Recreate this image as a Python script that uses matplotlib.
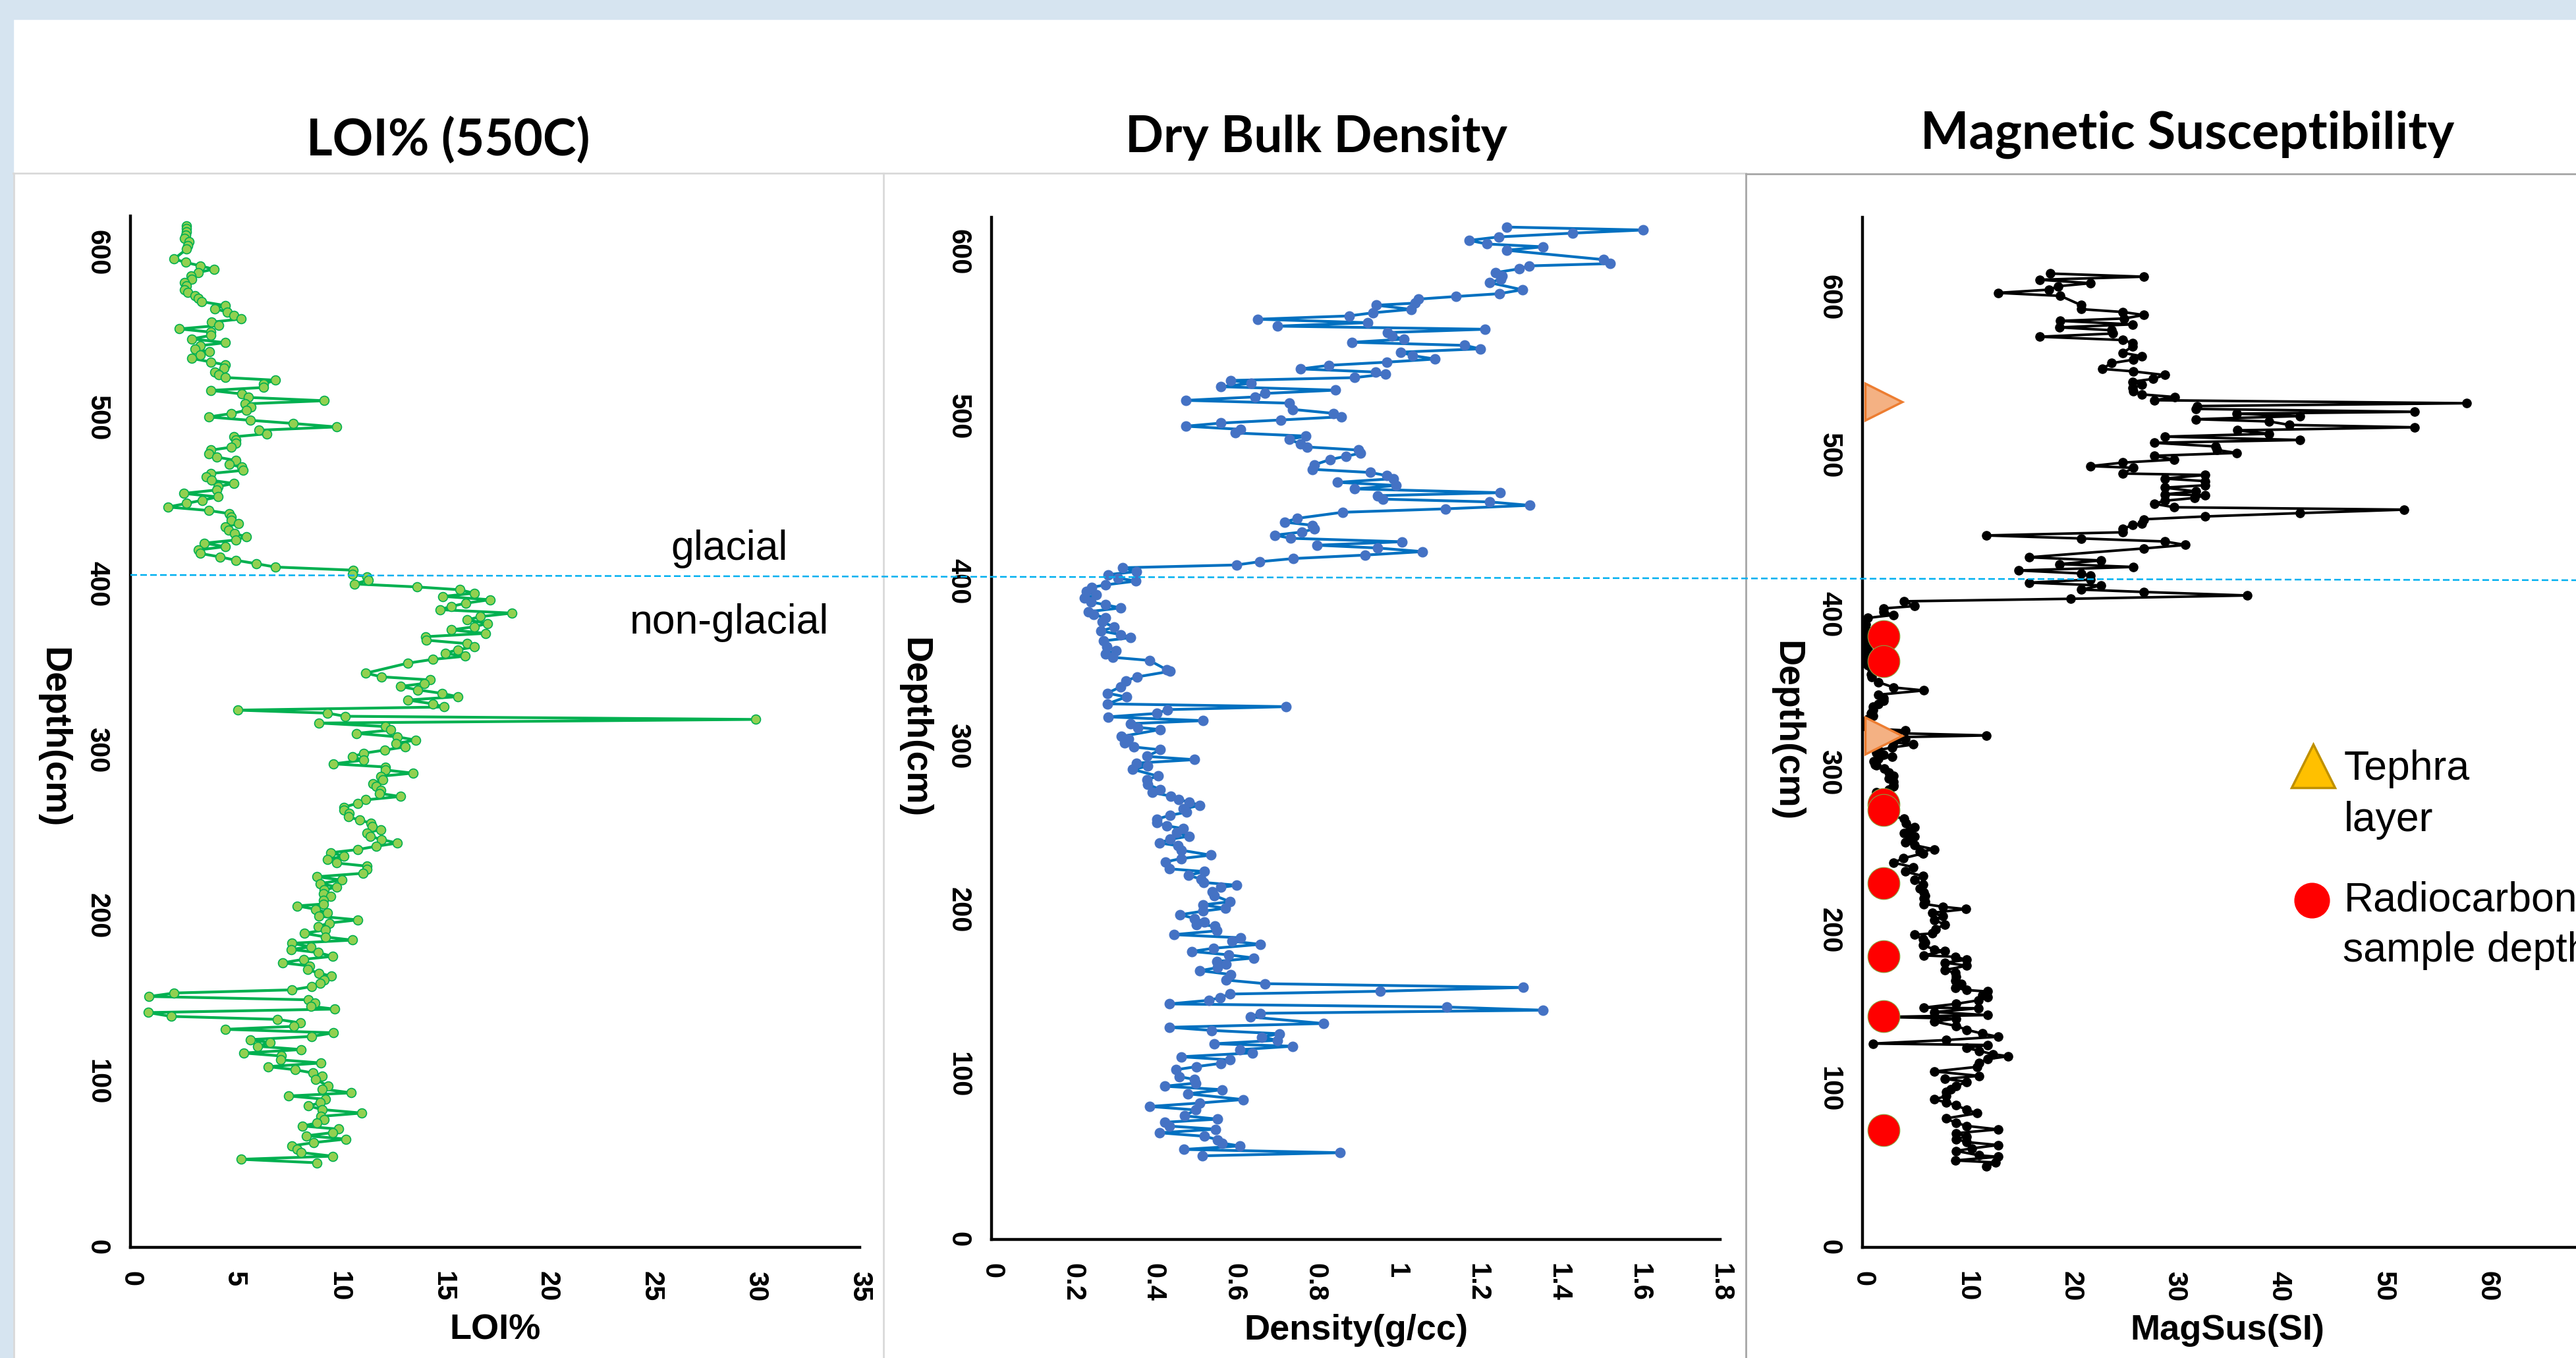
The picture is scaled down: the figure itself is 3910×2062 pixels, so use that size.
import matplotlib
matplotlib.use('Agg')
import matplotlib.pyplot as plt
from matplotlib.patches import Rectangle
from matplotlib.lines import Line2D

plt.rcParams['font.family'] = ['Liberation Sans', 'DejaVu Sans']

# ---------------- data ----------------
loi_depth = [616.1, 614.3, 612.4, 610.5, 608.3, 606.4, 604.2, 602.1, 596.1, 594.0, 592.0, 589.9, 588.0, 586.0,
             583.9, 581.8, 579.8, 577.7, 575.8, 574.1, 572.3, 570.4, 568.0, 566.1, 564.0, 562.0, 559.9, 558.0,
             556.0, 553.9, 552.0, 550.0, 547.9, 545.6, 543.8, 541.9, 540.0, 538.1, 536.1, 534.0, 532.2, 530.1,
             528.0, 526.1, 524.6, 523.0, 520.7, 518.6, 516.8, 514.7, 512.6, 510.6, 508.7, 506.8, 504.8, 502.9,
             500.8, 498.8, 496.9, 494.8, 492.8, 490.7, 488.8, 486.8, 484.9, 482.6, 480.8, 478.5, 476.6, 474.6,
             472.3, 470.5, 468.6, 466.7, 464.8, 462.6, 460.7, 458.8, 456.8, 454.7, 452.6, 450.6, 448.7, 446.5,
             444.4, 442.5, 440.4, 438.6, 436.5, 434.5, 432.4, 430.5, 428.6, 426.6, 424.7, 422.6, 420.6, 418.5,
             416.4, 414.4, 412.3, 410.3, 408.4, 405.9, 404.5, 402.4, 400.1, 398.3, 396.6, 394.5, 392.6, 390.6,
             388.5, 386.6, 384.6, 382.5, 380.4, 378.4, 376.3, 374.3, 372.4, 370.3, 368.3, 366.2, 364.1, 362.1,
             360.4, 358.3, 356.5, 354.6, 352.3, 346.3, 344.1, 342.2, 340.1, 338.3, 336.2, 334.1, 332.1, 330.1,
             327.8, 325.9, 324.0, 322.2, 320.3, 318.4, 316.2, 314.1, 312.0, 310.0, 307.9, 305.9, 304.0, 301.9,
             299.9, 298.0, 295.9, 293.9, 291.6, 289.7, 287.9, 286.0, 284.1, 281.9, 279.8, 277.9, 275.7, 273.8,
             271.9, 269.9, 267.8, 265.5, 263.7, 261.8, 259.7, 257.7, 255.8, 253.7, 252.0, 250.0, 247.9, 246.0,
             243.8, 241.9, 239.9, 238.0, 235.9, 233.9, 231.8, 229.9, 227.9, 225.6, 223.5, 221.5, 219.4, 217.4,
             215.5, 213.4, 211.9, 209.3, 207.1, 205.9, 203.9, 201.8, 199.7, 197.5, 195.6, 193.5, 191.5, 189.4,
             187.2, 185.3, 183.4, 181.2, 179.7, 177.8, 175.5, 173.7, 171.6, 169.7, 167.5, 165.4, 163.5, 161.3,
             159.4, 157.3, 155.3, 153.4, 151.3, 149.3, 147.2, 145.4, 143.7, 141.6, 139.3, 137.5, 135.4, 133.3,
             131.5, 129.4, 127.2, 125.3, 123.4, 121.3, 119.3, 117.2, 115.4, 113.1, 111.2, 109.0, 107.1, 105.2,
             103.4, 101.3, 97.2, 95.5, 93.2, 91.3, 89.3, 87.2, 85.3, 83.1, 81.0, 79.0, 76.9, 75.0, 73.2, 71.3,
             69.2, 67.3, 65.3, 63.2, 61.2, 59.3, 57.2, 55.0, 53.1, 51.0]
loi_pct = [2.7, 2.7, 2.7, 2.65, 2.6, 2.8, 2.75, 2.7, 2.1, 2.65, 3.35, 4.0, 3.25, 2.9,
           2.95, 2.6, 2.7, 2.6, 2.75, 3.1, 3.25, 3.4, 4.55, 4.05, 4.65, 4.95, 5.3, 3.9,
           4.25, 2.35, 3.85, 3.85, 2.95, 4.55, 3.35, 3.1, 3.8, 3.35, 2.95, 3.85, 4.55, 4.5,
           4.05, 4.25, 4.55, 6.95, 6.4, 6.4, 3.85, 5.35, 5.65, 9.3, 5.5, 5.8, 5.55, 4.85,
           3.75, 5.75, 7.8, 9.9, 6.15, 6.55, 4.95, 5.05, 5.05, 4.85, 3.85, 3.75, 4.15, 5.05,
           4.75, 5.35, 5.4, 3.85, 3.65, 3.9, 4.95, 4.2, 4.15, 2.55, 4.2, 3.45, 2.7, 1.8,
           3.75, 4.75, 4.85, 4.85, 5.2, 4.55, 4.7, 5.0, 5.55, 5.05, 3.55, 4.55, 3.25, 3.35,
           4.3, 5.05, 6.05, 6.95, 10.7, 10.65, 11.35, 11.4, 10.75, 13.75, 15.8, 16.5, 15.0, 17.25,
           16.1, 15.4, 14.85, 18.3, 16.8, 16.15, 17.15, 16.5, 15.4, 17.05, 14.15, 14.2, 16.15, 16.5,
           15.7, 15.1, 16.05, 14.5, 13.3, 11.3, 12.05, 14.4, 14.1, 12.95, 13.8, 14.95, 15.7, 13.3,
           14.5, 15.05, 5.15, 9.45, 10.3, 30.0, 9.05, 12.25, 12.5, 10.85, 12.8, 13.7, 12.75, 13.2,
           12.2, 11.2, 10.65, 11.2, 9.75, 12.25, 12.25, 13.55, 12.0, 12.1, 11.65, 11.8, 12.0, 11.95,
           12.95, 11.3, 10.9, 10.25, 10.25, 10.5, 10.45, 11.0, 11.55, 11.6, 12.0, 11.35, 11.5, 12.05,
           12.8, 11.8, 10.9, 9.6, 10.25, 9.45, 9.9, 11.35, 11.35, 11.15, 8.95, 10.15, 9.1, 9.9,
           9.3, 9.25, 9.6, 9.25, 9.25, 8.0, 8.9, 9.45, 9.05, 10.9, 9.55, 9.0, 9.35, 8.35,
           9.35, 10.65, 7.75, 8.65, 7.7, 9.0, 9.7, 8.3, 7.3, 8.6, 8.5, 9.05, 9.65, 9.3,
           9.1, 8.7, 7.75, 2.1, 0.9, 8.55, 8.85, 8.65, 9.8, 0.85, 1.95, 7.05, 8.15, 7.85,
           4.55, 9.75, 8.7, 5.75, 6.7, 6.1, 8.2, 5.45, 7.25, 7.2, 9.15, 6.6, 7.9, 8.75,
           9.2, 8.9, 9.5, 9.2, 10.6, 7.6, 9.35, 9.1, 8.55, 9.2, 11.1, 9.15, 9.3, 8.95, 8.25, 10.0,
           9.7, 8.45, 10.35, 8.8, 7.75, 8.0, 8.2, 9.7, 5.3, 8.95]

dens_depth = [615.1, 613.3, 611.4, 609.1, 607.0, 604.8, 603.1, 601.0, 595.3, 592.9, 591.5, 589.7, 587.4, 585.3,
              583.4, 581.3, 577.0, 574.6, 572.9, 571.3, 568.9, 567.6, 565.1, 563.0, 561.1, 559.1, 557.0, 554.9,
              553.0, 551.0, 548.9, 547.0, 545.1, 543.2, 541.1, 539.1, 537.0, 534.9, 533.0, 531.1, 528.9, 527.0,
              525.8, 523.6, 521.9, 520.2, 518.1, 516.0, 514.0, 511.9, 509.8, 508.1, 504.3, 501.9, 499.8, 497.9,
              496.0, 494.1, 492.2, 490.0, 488.1, 486.0, 483.4, 481.5, 479.6, 477.7, 475.8, 473.9, 470.7, 467.9,
              466.0, 464.1, 462.2, 460.0, 458.1, 456.0, 453.7, 451.9, 449.8, 448.1, 446.0, 443.9, 441.8, 438.1,
              435.8, 433.9, 431.7, 429.8, 427.9, 426.0, 423.9, 421.8, 420.1, 417.9, 415.8, 413.7, 411.8, 409.8,
              408.1, 405.8, 403.9, 401.8, 400.0, 397.7, 396.2, 393.7, 391.6, 389.6, 387.3, 385.6, 383.7, 381.4,
              379.6, 377.7, 375.4, 372.0, 369.7, 367.5, 365.6, 363.7, 360.3, 357.9, 355.6, 353.7, 351.8, 346.1,
              345.2, 341.8, 339.5, 335.8, 331.9, 329.6, 325.4, 323.7, 321.9, 319.6, 317.5, 315.2, 313.4, 311.1,
              309.8, 305.6, 303.9, 301.5, 299.2, 297.5, 293.5, 291.5, 289.4, 287.5, 285.6, 281.5, 279.4, 276.5,
              273.3, 271.5, 269.4, 267.1, 265.8, 263.7, 261.6, 259.6, 257.7, 255.4, 253.1, 251.3, 249.6, 247.1,
              245.0, 243.1, 240.9, 239.2, 236.5, 233.5, 231.4, 229.4, 225.2, 223.5, 221.2, 219.0, 216.9, 215.2,
              213.9, 211.2, 209.0, 205.2, 203.3, 201.2, 199.5, 197.3, 195.0, 192.9, 191.2, 190.5, 187.5, 185.2,
              183.3, 181.2, 179.3, 176.9, 175.0, 172.9, 171.0, 168.9, 167.1, 165.2, 163.3, 161.0, 157.6, 155.4,
              153.1, 150.8, 149.1, 146.9, 145.3, 143.1, 141.2, 139.3, 137.4, 135.2, 131.2, 128.9, 127.0, 125.0,
              122.9, 121.0, 118.9, 117.4, 115.3, 113.3, 111.0, 109.1, 107.0, 105.0, 103.1, 98.9, 97.2, 95.0,
              93.1, 91.0, 88.5, 85.0, 82.9, 80.8, 78.7, 75.1, 73.1, 71.2, 68.9, 67.0, 64.8, 62.7, 60.6, 58.5,
              56.8, 54.7, 52.7, 50.8]
dens_gcc = [1.272, 1.610, 1.436, 1.253, 1.180, 1.224, 1.363, 1.272, 1.512, 1.529, 1.328, 1.303, 1.245, 1.262,
            1.258, 1.231, 1.311, 1.254, 1.147, 1.054, 1.047, 0.951, 1.036, 0.942, 0.883, 0.657, 0.929, 0.706,
            1.219, 0.978, 0.989, 1.019, 0.891, 1.169, 1.207, 1.011, 1.040, 1.096, 0.976, 0.834, 0.764, 0.949,
            0.974, 0.897, 0.591, 0.642, 0.567, 0.849, 0.675, 0.651, 0.480, 0.736, 0.744, 0.845, 0.864, 0.714,
            0.567, 0.480, 0.615, 0.602, 0.777, 0.735, 0.764, 0.779, 0.907, 0.911, 0.875, 0.837, 0.798, 0.793,
            0.935, 0.976, 0.992, 0.855, 1.000, 0.897, 1.256, 0.953, 0.967, 1.231, 1.330, 1.122, 0.867, 0.755,
            0.724, 0.793, 0.798, 0.766, 0.700, 0.739, 1.014, 0.804, 0.954, 1.065, 0.922, 0.746, 0.663, 0.605,
            0.324, 0.358, 0.288, 0.313, 0.357, 0.281, 0.248, 0.234, 0.259, 0.229, 0.246, 0.281, 0.319, 0.240,
            0.253, 0.281, 0.273, 0.303, 0.270, 0.319, 0.344, 0.277, 0.284, 0.308, 0.281, 0.299, 0.390, 0.433,
            0.441, 0.360, 0.332, 0.319, 0.286, 0.333, 0.286, 0.728, 0.435, 0.408, 0.288, 0.523, 0.343, 0.362,
            0.417, 0.321, 0.339, 0.328, 0.352, 0.417, 0.384, 0.501, 0.358, 0.386, 0.349, 0.411, 0.384, 0.386,
            0.417, 0.397, 0.442, 0.463, 0.488, 0.515, 0.474, 0.482, 0.441, 0.409, 0.408, 0.433, 0.474, 0.458,
            0.488, 0.441, 0.415, 0.461, 0.468, 0.542, 0.468, 0.430, 0.439, 0.526, 0.486, 0.517, 0.524, 0.606,
            0.567, 0.545, 0.550, 0.589, 0.523, 0.577, 0.523, 0.466, 0.502, 0.526, 0.506, 0.551, 0.556, 0.450,
            0.615, 0.594, 0.664, 0.548, 0.495, 0.586, 0.648, 0.556, 0.580, 0.559, 0.515, 0.591, 0.580, 0.676,
            1.314, 0.960, 0.589, 0.564, 0.537, 0.439, 1.125, 1.362, 0.664, 0.640, 0.820, 0.439, 0.544, 0.711,
            0.668, 0.706, 0.550, 0.744, 0.613, 0.644, 0.468, 0.589, 0.567, 0.506, 0.455, 0.464, 0.502, 0.504,
            0.428, 0.570, 0.485, 0.621, 0.515, 0.390, 0.504, 0.477, 0.559, 0.428, 0.439, 0.553, 0.415, 0.526,
            0.559, 0.570, 0.613, 0.475, 0.861, 0.520]

mag_depth = [615.0, 613.0, 611.1, 608.9, 607.0, 604.8, 602.8, 600.9, 595.0, 592.5, 590.7, 588.8, 586.6, 585.1,
             582.9, 581.0, 579.2, 577.1, 575.1, 573.0, 571.2, 569.0, 564.9, 562.8, 560.6, 558.4, 554.8, 553.2,
             550.9, 548.5, 546.7, 544.8, 542.6, 540.5, 538.7, 537.0, 535.0, 533.1, 531.3, 529.5, 527.7, 526.5,
             525.0, 523.0, 521.6, 519.4, 517.9, 516.0, 513.8, 512.0, 509.9, 508.1, 505.8, 503.6, 501.7, 499.9,
             497.5, 495.6, 493.4, 492.3, 488.7, 487.8, 485.5, 483.9, 481.3, 479.8, 477.4, 475.6, 475.0, 473.3,
             471.5, 469.6, 467.4, 465.9, 463.7, 461.6, 459.8, 457.0, 456.1, 453.8, 451.6, 449.6, 447.7, 445.8,
             443.6, 441.4, 435.8, 433.8, 431.5, 429.7, 427.5, 425.6, 424.1, 421.7, 419.8, 418.0, 415.4, 413.9,
             411.7, 409.6, 408.0, 405.0, 403.5, 401.3, 399.4, 397.5, 395.7, 393.5, 391.5, 389.5, 387.5, 385.5,
             383.5, 381.5, 379.5, 377.5, 375.5, 373.5, 371.5, 369.5, 367.5, 365.0, 362.0, 360.0, 357.0, 353.6,
             351.7, 349.0, 347.0, 345.2, 343.0, 341.5, 339.5, 337.5, 335.8, 333.5, 331.1, 329.0, 327.5, 326.5,
             325.0, 323.3, 322.0, 320.9, 319.0, 317.6, 315.7, 314.0, 312.5, 311.0, 309.8, 308.5, 307.0, 305.0,
             304.6, 302.3, 300.0, 297.7, 296.0, 294.0, 292.0, 291.2, 289.0, 287.5, 285.0, 282.5, 280.0, 277.0,
             274.0, 272.6, 270.8, 268.0, 265.2, 263.0, 261.5, 259.6, 257.5, 255.9, 254.0, 251.3, 250.0, 248.8,
             245.7, 242.9, 240.1, 237.3, 234.5, 232.1, 229.0, 226.5, 224.3, 222.0, 220.6, 218.5, 216.9, 215.1,
             213.6, 211.3, 209.1, 206.7, 203.9, 201.0, 198.3, 197.4, 194.6, 192.5, 190.9, 188.1, 187.2, 184.4,
             183.5, 181.6, 179.8, 177.9, 175.1, 173.3, 171.0, 168.6, 166.5, 164.0, 162.5, 161.6, 159.5, 157.9,
             156.0, 153.8, 151.4, 151.0, 148.6, 146.7, 145.5, 144.5, 142.6, 139.8, 137.4, 135.0, 133.0, 130.9,
             128.7, 127.8, 125.9, 124.1, 122.0, 120.7, 118.9, 116.6, 114.0, 111.1, 108.3, 106.4, 104.6, 101.8,
             100.0, 98.1, 95.5, 93.4, 91.6, 89.7, 86.9, 84.7, 81.4, 78.6, 76.7, 74.5, 72.1, 70.0, 68.4, 66.5,
             64.6, 62.5, 60.9, 58.1, 57.2, 54.9, 53.6, 51.0]
mag_si = [18.0, 27.0, 17.0, 21.9, 18.8, 17.9, 13.0, 19.0, 21.0, 21.0, 25.0, 27.0, 25.1, 19.0,
          25.9, 18.9, 23.9, 24.0, 17.0, 25.0, 25.9, 25.9, 25.0, 26.8, 26.0, 23.9, 23.0, 26.0,
          29.0, 27.9, 25.9, 26.8, 25.9, 26.0, 26.8, 30.0, 28.0, 58.0, 32.1, 32.0, 53.0, 35.9,
          42.0, 32.0, 39.0, 41.0, 53.0, 36.0, 39.0, 29.0, 42.0, 28.0, 33.9, 34.0, 35.9, 28.0,
          29.9, 25.0, 21.9, 26.0, 25.0, 32.9, 29.0, 32.9, 32.9, 29.0, 32.0, 29.0, 32.9, 31.9,
          29.0, 28.0, 29.9, 52.0, 42.0, 32.9, 27.0, 26.8, 25.9, 25.0, 25.0, 11.9, 21.0, 29.0,
          31.0, 27.0, 16.0, 22.9, 18.9, 26.0, 15.0, 21.0, 21.9, 21.9, 16.0, 22.9, 21.0, 27.0,
          36.9, 20.0, 4.0, 5.0, 2.0, 2.0, 3.0, 0.5, 0.2, 0.3, 0.2, 0.5, 0.2, 0.4,
          0.2, 0.5, 0.3, 0.5, 0.3, 0.4, 0.6, 0.3, 0.5, 0.9, 0.8, 0.9, 1.5, 3.0,
          5.9, 1.5, 2.0, 2.0, 1.5, 1.0, 1.0, 0.8, 1.0, 0.5, 0.2, 0.3, 1.0, 4.1,
          1.5, 11.9, 2.0, 4.1, 3.0, 4.9, 2.85, 1.5, 1.3, 2.0, 2.85, 1.5, 1.1, 1.2,
          1.3, 2.1, 2.5, 3.0, 2.5, 3.0, 3.0, 3.0, 2.5, 1.3, 1.5, 2.0, 1.7, 2.0,
          2.5, 2.5, 4.0, 4.2, 5.0, 4.5, 4.0, 5.0, 4.5, 4.1, 5.0, 6.9, 5.5, 5.8,
          3.9, 3.0, 4.9, 4.1, 5.8, 5.0, 5.8, 5.5, 5.9, 6.0, 5.9, 6.0, 5.9, 7.7,
          9.9, 6.7, 7.7, 6.9, 7.9, 7.0, 6.7, 5.0, 5.8, 6.0, 5.8, 6.9, 7.9, 5.9,
          8.9, 10.0, 7.9, 10.0, 7.9, 8.9, 9.0, 8.9, 9.5, 8.9, 10.0, 12.0, 11.5, 12.0,
          11.1, 9.0, 5.9, 11.1, 6.9, 12.0, 2.0, 9.0, 6.9, 9.0, 10.0, 11.5, 13.0, 8.0,
          1.0, 12.0, 10.0, 11.2, 12.5, 14.0, 12.0, 11.2, 11.0, 6.9, 11.2, 7.9, 10.0, 9.0,
          8.5, 8.0, 8.0, 6.9, 8.0, 9.0, 10.0, 11.0, 8.0, 9.0, 10.0, 13.0, 9.0, 10.0, 9.0, 10.0,
          13.0, 10.5, 9.0, 11.2, 13.0, 8.9, 12.8, 11.9]

radiocarbon_depth = [386, 370, 280, 276, 230, 184, 146, 74]
radiocarbon_x = [2, 2, 2, 2, 2, 2, 2, 2]
tephra_depth = [534, 323]
tephra_x = [2, 2]

titles = ['LOI% (550C)', 'Dry Bulk Density', 'Magnetic Susceptibility']
dens_ticks = [0, 0.2, 0.4, 0.6, 0.8, 1, 1.2, 1.4, 1.6, 1.8]
dens_ticklabels = ['0', '0.2', '0.4', '0.6', '0.8', '1', '1.2', '1.4', '1.6', '1.8']

# ---------------- layout helpers (pixel -> figure fraction) ----------------
W, H = 3910, 2062
fig = plt.figure(figsize=(W / 100, H / 100), dpi=100)
fig.patch.set_facecolor('white')


def fx(px):
    return px / W


def fy(py):
    return 1 - py / H


def rect_px(x0, y0, x1, y1):
    return [fx(x0), fy(y1), fx(x1) - fx(x0), fy(y0) - fy(y1)]


# background bands and panel borders
fig.add_artist(Rectangle((0, fy(29)), 1, 1 - fy(29), transform=fig.transFigure, color='#D6E4F0', zorder=0))
fig.add_artist(Rectangle((0, 0), fx(20), 1, transform=fig.transFigure, color='#D6E4F0', zorder=0))
fig.add_artist(Line2D([fx(20), fx(2650)], [fy(263), fy(263)], transform=fig.transFigure, color='#D9D9D9', lw=2))
fig.add_artist(Line2D([fx(2650), 1], [fy(264), fy(264)], transform=fig.transFigure, color='#A6A6A6', lw=2))
fig.add_artist(Line2D([fx(21), fx(21)], [0, fy(263)], transform=fig.transFigure, color='#D9D9D9', lw=2))
fig.add_artist(Line2D([fx(1341), fx(1341)], [0, fy(263)], transform=fig.transFigure, color='#D9D9D9', lw=2))
fig.add_artist(Line2D([fx(2650), fx(2650)], [0, fy(264)], transform=fig.transFigure, color='#A6A6A6', lw=2))

ax1 = fig.add_axes(rect_px(198, 328, 1305, 1894))
ax2 = fig.add_axes(rect_px(1505, 330, 2611, 1882))
ax3 = fig.add_axes(rect_px(2827, 330, 3934, 1894))

for ax in (ax1, ax2, ax3):
    ax.set_facecolor('none')
    for s in ('top', 'right'):
        ax.spines[s].set_visible(False)
    for s in ('left', 'bottom'):
        ax.spines[s].set_linewidth(3.2)
        ax.spines[s].set_color('black')
    ax.tick_params(length=0, labelsize=30)
    ax.set_yticks([0, 100, 200, 300, 400, 500, 600])
    ax.tick_params(axis='y', pad=22)
    ax.tick_params(axis='x', pad=26)

# LOI
ax1.plot(loi_pct, loi_depth, color='#00B050', lw=3, marker='o', ms=10,
         markerfacecolor='#92D050', markeredgecolor='#00B050', markeredgewidth=1.2)
ax1.set_xlim(0, 35)
ax1.set_ylim(0, 622)
ax1.set_xticks([0, 5, 10, 15, 20, 25, 30, 35])

# Density
ax2.plot(dens_gcc, dens_depth, color='#0070C0', lw=3, marker='o', ms=10.5,
         markerfacecolor='#4472C4', markeredgecolor='#4472C4')
ax2.set_xlim(0, 1.8)
ax2.set_ylim(0, 621)
ax2.set_xticks(dens_ticks)
ax2.set_xticklabels(dens_ticklabels)

# Magnetic susceptibility
ax3.plot(mag_si, mag_depth, color='black', lw=2.8, marker='o', ms=9.5,
         markerfacecolor='black', markeredgecolor='black')
ax3.plot(tephra_x, tephra_depth, ls='none', marker='>', ms=40, markerfacecolor='#F4B183',
         markeredgecolor='#ED7D31', markeredgewidth=2.5, zorder=5)
ax3.plot(radiocarbon_x, radiocarbon_depth, ls='none', marker='o', ms=35, markerfacecolor='#FF0000',
         markeredgecolor='#8AA040', markeredgewidth=0.8, zorder=6)
ax3.set_xlim(0, 70)
ax3.set_ylim(0, 650.5)
ax3.set_xticks([0, 10, 20, 30, 40, 50, 60, 70])

for ax in (ax1, ax2, ax3):
    for lab in ax.get_yticklabels():
        lab.set_rotation(-90)
        lab.set_va('center')
        lab.set_fontweight('bold')
    for lab in ax.get_xticklabels():
        lab.set_rotation(-90)
        lab.set_ha('center')
        lab.set_va('top')
        lab.set_fontweight('bold')

# titles
title_fam = ['Lato', 'DejaVu Sans']
fig.text(fx(680), fy(236), titles[0], ha='center', va='baseline', fontsize=55, fontweight='bold', family=title_fam)
fig.text(fx(1998), fy(231), titles[1], ha='center', va='baseline', fontsize=55, fontweight='bold', family=title_fam)
fig.text(fx(3320), fy(226), titles[2], ha='center', va='baseline', fontsize=56, fontweight='bold', family=title_fam)

# axis labels
fig.text(fx(752), fy(2020), 'LOI%', ha='center', va='center', fontsize=39, fontweight='bold')
fig.text(fx(2058), fy(2020), 'Density(g/cc)', ha='center', va='center', fontsize=39, fontweight='bold')
fig.text(fx(3381), fy(2020), 'MagSus(SI)', ha='center', va='center', fontsize=39, fontweight='bold')
fig.text(fx(80), fy(1120), 'Depth(cm)', rotation=-90, ha='center', va='center', fontsize=40, fontweight='bold')
fig.text(fx(1387), fy(1105), 'Depth(cm)', rotation=-90, ha='center', va='center', fontsize=40, fontweight='bold')
fig.text(fx(2711), fy(1110), 'Depth(cm)', rotation=-90, ha='center', va='center', fontsize=40, fontweight='bold')

# glacial boundary
fig.add_artist(Line2D([fx(198), 1], [fy(873), fy(881)], transform=fig.transFigure, color='#00B0F0',
                      lw=1.8, ls=(0, (4, 2)), zorder=10))
fig.text(fx(1107), fy(850), 'glacial', ha='center', va='baseline', fontsize=45)
fig.text(fx(1107), fy(962), 'non-glacial', ha='center', va='baseline', fontsize=45)

# legend
fig.add_artist(Line2D([fx(3511)], [fy(1163)], transform=fig.transFigure, marker='^', ms=48, ls='none',
                      markerfacecolor='#FFC000', markeredgecolor='#BF9000', markeredgewidth=2.5))
fig.add_artist(Line2D([fx(3509)], [fy(1367)], transform=fig.transFigure, marker='o', ms=38, ls='none',
                      markerfacecolor='#FF0000', markeredgecolor='#FF0000'))
fig.text(fx(3558), fy(1184), 'Tephra', ha='left', va='baseline', fontsize=45)
fig.text(fx(3558), fy(1262), 'layer', ha='left', va='baseline', fontsize=45)
fig.text(fx(3558), fy(1384), 'Radiocarbon', ha='left', va='baseline', fontsize=45)
fig.text(fx(3556), fy(1460), 'sample depth', ha='left', va='baseline', fontsize=45)

fig.savefig('out.png', dpi=100)
